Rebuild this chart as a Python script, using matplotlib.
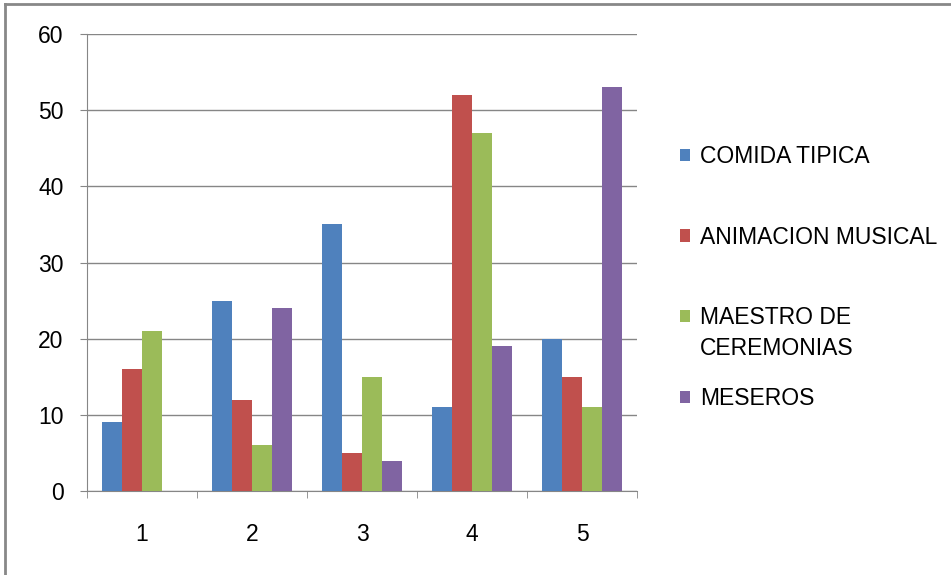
import numpy as np
import matplotlib
matplotlib.use("Agg")
import matplotlib.pyplot as plt
from matplotlib.lines import Line2D

plt.rcParams['font.family'] = ['Liberation Sans', 'DejaVu Sans']

categories = ['1', '2', '3', '4', '5']
series_names = ['COMIDA TIPICA', 'ANIMACION MUSICAL', 'MAESTRO DE', 'MESEROS']
comida = [9, 25, 35, 11, 20]
animacion = [16, 12, 5, 52, 15]
maestro = [21, 6, 15, 47, 11]
meseros = [0, 24, 4, 19, 53]
colors = ['#4F81BD', '#C0504D', '#9BBB59', '#8064A2']

fig = plt.figure(figsize=(9.51, 5.75), dpi=100)
ax = fig.add_axes([87/951, 84/575, 550/951, 457/575])

x = np.arange(len(categories))
w = 0.18
for i, (vals, name, c) in enumerate(zip([comida, animacion, maestro, meseros], series_names, colors)):
    ax.bar(x + (i - 1.5) * w, vals, w, color=c, label=name, zorder=3)

grey = '#868686'
ax.set_xlim(-0.5, 4.5)
ax.set_ylim(0, 60)
ax.set_yticks(range(0, 61, 10))
ax.yaxis.grid(True, color=grey, linewidth=1, zorder=0)
ax.set_xticks(x)
ax.set_xticklabels(categories)
ax.set_xticks(np.arange(-0.5, 5, 1), minor=True)
ax.tick_params(axis='x', which='major', length=0, pad=23, labelsize=16.5)
ax.tick_params(axis='x', which='minor', length=5, color=grey, direction='out')
ax.tick_params(axis='y', length=5, color=grey, direction='out', pad=12, labelsize=16.5)
for s in ['top', 'right']:
    ax.spines[s].set_visible(False)
for s in ['left', 'bottom']:
    ax.spines[s].set_color(grey)

leg = ax.legend(loc='center left', bbox_to_anchor=(680/951, 1 - 277.5/575),
                bbox_transform=fig.transFigure, frameon=False, fontsize=16.5,
                handlelength=0.45, handleheight=0.45, handletextpad=0.42,
                labelspacing=2.52, borderpad=0, borderaxespad=0)

# second line of the "MAESTRO DE CEREMONIAS" legend label
fig.canvas.draw()
t = leg.get_texts()[2]
bb = t.get_window_extent()
fig.text(bb.x0, bb.y0 - 31, 'CEREMONIAS', fontsize=16.5, ha='left', va='bottom',
         transform=None)

# chart border (left and top only visible)
fig.add_artist(Line2D([5/951, 5/951], [0, 1 - 4/575], transform=fig.transFigure, color='#888888', lw=2))
fig.add_artist(Line2D([5/951, 1], [1 - 4/575, 1 - 4/575], transform=fig.transFigure, color='#888888', lw=2))

fig.savefig('out.png', dpi=100)
